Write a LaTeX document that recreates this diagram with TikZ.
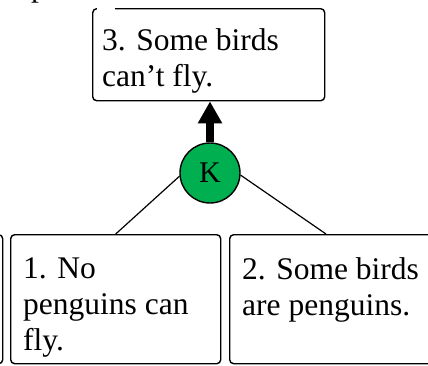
\documentclass[tikz,border=0pt]{standalone}
\usepackage{fontspec}
\setmainfont{Liberation Serif}
\usetikzlibrary{arrows.meta}
\definecolor{kgreen}{RGB}{0,176,80}
\begin{document}
\begin{tikzpicture}[x=1pt,y=-1pt,
  box/.style={draw, line width=1.4pt, rounded corners=4pt, inner sep=0pt, anchor=north west},
  txt/.style={font=\fontsize{31.5}{36}\selectfont, align=left, inner sep=0pt, anchor=north west},
  link/.style={line width=1.2pt}]
\useasboundingbox (0,0) rectangle (428,365);
% boxes
\node[box, minimum width=232pt, minimum height=92pt] (b3) at (92,8) {};
\draw[white, line width=3pt] (97,8) -- (115,8);
\node[txt, anchor=base west] (frag) at (31,-4) {p};
\node[box, minimum width=102pt, minimum height=129pt] (b0) at (-100,234) {};
\node[box, minimum width=210pt, minimum height=129pt] (b1) at (10,234) {};
\node[box, minimum width=230pt, minimum height=129pt] (b2) at (229,234) {};
% texts
\node[txt] (t3) at (102,28.5) {3. Some birds\\can’t fly.};
\node[txt] (t1) at (23,257) {1. No\\penguins can\\fly.};
\node[txt] (t2) at (242,257) {2. Some birds\\are penguins.};
% K
\node[circle, draw, fill=kgreen, line width=1.4pt, minimum size=60pt, inner sep=0pt,
  font=\fontsize{30}{36}\selectfont] (K) at (210,173) {K};
\coordinate (c2) at (326,234);
\draw[line width=8pt, -{Triangle[width=23pt,length=22pt]}] (K.north) -- (K.north |- b3.south);
\draw[link] (K.186) -- (b1.north);
\draw[link] (K.356) -- (c2);
\end{tikzpicture}
\end{document}
